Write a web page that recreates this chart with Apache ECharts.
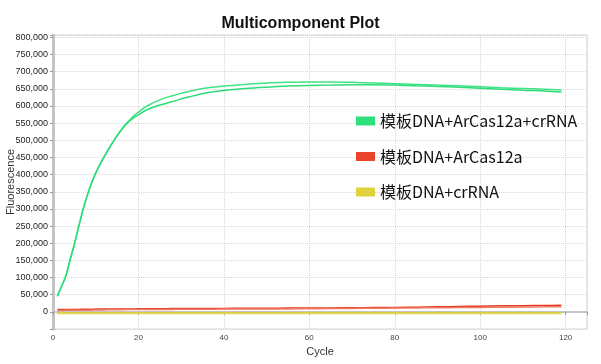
<!DOCTYPE html>
<html><head><meta charset="utf-8">
<script src="https://cdn.jsdelivr.net/npm/echarts@6/dist/echarts.min.js"></script>
<style>html,body{margin:0;padding:0;background:#fff}#c{width:601px;height:364px}</style>
</head><body><div id="c"></div>
<script>
const title = 'Multicomponent Plot';
const seriesNames = ['模板DNA+ArCas12a+crRNA', '模板DNA+ArCas12a', '模板DNA+crRNA'];
const cycles = [1,2,3,4,5,6,7,8,9,10,11,12,13,14,15,16,17,18,19,20,22,25,28,31,35,40,45,50,55,60,65,70,75,80,85,90,95,100,105,110,115,119];
// values in thousands
const greenA = [46,75,105,152,198,248,296,338,374,404,429,452,474,495,514,531,547,560,572,582,600,618,630,640,651,658,663,667,669,670,670,669,667,665,663,661,659,656,653,651,649,647];
const greenB = [45,74,104,151,197,248,297,339,375,405,430,453,474,494,513,530,545,557,567,574,589,603,613,624,636,645,651,655,658,660,661,662,662,661,659,657,655,652,649,646,644,641];
const redA = [7,7,7,7,7,7,7.5,7.5,7.5,8,8,8,8,8,8,8.5,8.5,8.5,8.5,9,9,9,9.5,9.5,10,10,10.5,10.5,11,11,11.5,12,12.5,13,13.5,14.5,15.5,16.5,17.5,18,18.5,19];
const redB = [4,4,4.5,4.5,4.5,5,5,5,5,5.5,5.5,5.5,6,6,6,6,6.5,6.5,6.5,6.5,7,7,7,7.5,7.5,8,8,8.5,8.5,9,9.5,10,10.5,11,11.5,12,12.5,13,13.5,14,14.5,15];
const yellowA = [-3,-3,-3,-3,-3,-3,-3,-3,-3,-3,-3,-3,-3,-3,-3,-3,-3,-3,-3,-3,-3,-3,-3,-3,-3,-3,-3,-3,-3,-3,-3,-3,-3,-3,-3,-3,-3,-3,-3,-3,-3,-3];
const yellowB = [-4.5,-4.5,-4.5,-4.5,-4.5,-4.5,-4.5,-4.5,-4.5,-4.5,-4.5,-4.5,-4.5,-4.5,-4.5,-4.5,-4.5,-4.5,-4.5,-4.5,-4.5,-4.5,-4.5,-4.5,-4.5,-4.5,-4.5,-4.5,-4.5,-4.5,-4.5,-4.5,-4.5,-4.5,-4.5,-4.5,-4.5,-4.5,-4.5,-4.5,-4.5,-4.5];

function pts(arr){ return cycles.map((c,i)=>[c, arr[i]*1000]); }
function line(name, arr, color){
  return {type:'line', name:name, data:pts(arr), showSymbol:false, smooth:0.35,
    lineStyle:{width:1.5,color:color}, itemStyle:{color:color}};
}
const chart = echarts.init(document.getElementById('c'), null, {renderer:'canvas'});
chart.setOption({
  animation:false,
  title:{text:title,left:'center',top:11,textStyle:{fontFamily:'Liberation Sans',fontSize:16,fontWeight:'bold',color:'#111'}},
  grid:{left:53,right:14,top:35,bottom:35,show:true,borderColor:'#d4d4d4',borderWidth:1,outerBoundsMode:'none',containLabel:false},
  legend:{orient:'vertical',left:351,top:107,icon:'rect',itemWidth:19,itemHeight:9,itemGap:17.5,
    data:[{name:seriesNames[0],itemStyle:{color:'#2ee07a'}},{name:seriesNames[1],itemStyle:{color:'#e8452a'}},{name:seriesNames[2],itemStyle:{color:'#e0d23a'}}],
    textStyle:{fontFamily:'Noto Sans CJK SC',fontSize:16,lineHeight:18,color:'#111',padding:[0,0,0,0]}},
  xAxis:{type:'value',min:0,max:125,interval:20,name:'Cycle',nameLocation:'middle',nameGap:17,nameMoveOverlap:false,
    nameTextStyle:{fontFamily:'Liberation Sans',fontSize:11,color:'#333'},
    axisLine:{show:true,lineStyle:{color:'#c4c4c4',width:2}},
    axisTick:{show:true,length:3,lineStyle:{color:'#999'}},
    axisLabel:{fontFamily:'Liberation Sans',fontSize:8,color:'#444',margin:5,formatter:v=>(v%20===0?String(v):'')},
    splitLine:{show:true,lineStyle:{type:'dotted',color:'#d8d8d8'}}},
  yAxis:{type:'value',min:-50000,max:807000,interval:50000,name:'Fluorescence',nameLocation:'middle',nameGap:37,nameMoveOverlap:false,
    nameTextStyle:{fontFamily:'Liberation Sans',fontSize:11,color:'#333'},
    axisLine:{show:true,lineStyle:{color:'#c4c4c4',width:3}},
    axisTick:{show:true,length:3,lineStyle:{color:'#999'}},
    axisLabel:{fontFamily:'Liberation Sans',fontSize:9,color:'#222',margin:5,
      formatter:v=>(v>=0 && v%50000===0 ? v.toLocaleString('en-US') : '')},
    splitLine:{show:true,lineStyle:{type:'dotted',color:'#d8d8d8'}}},
  series:[
    line(seriesNames[2], yellowA, '#dccd34'),
    line(seriesNames[2], yellowB, '#e3d64a'),
    line(seriesNames[1], redA, '#e53a1f'),
    line(seriesNames[1], redB, '#f07a68'),
    line(seriesNames[0], greenA, '#3ee386'),
    line(seriesNames[0], greenB, '#2edc78')
  ]
});
</script></body></html>
